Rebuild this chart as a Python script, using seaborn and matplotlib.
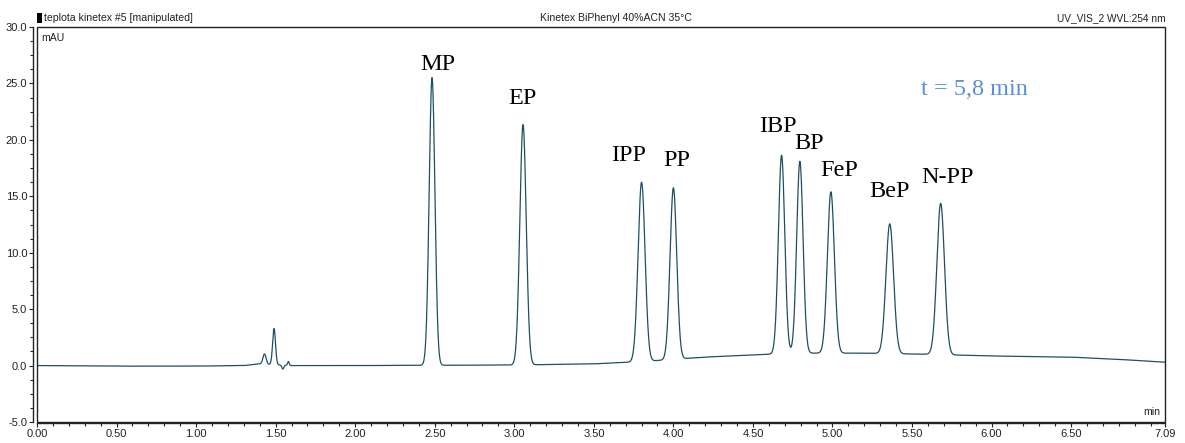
import numpy as np
import pandas as pd
import matplotlib
matplotlib.use("Agg")
import matplotlib.pyplot as plt
from matplotlib.patches import Rectangle
from matplotlib.ticker import MultipleLocator, FixedLocator, FuncFormatter
import seaborn as sns

# ---- data ----
peak_names = ["MP", "EP", "IPP", "PP", "IBP", "BP", "FeP", "BeP", "N-PP"]
peak_times = [2.483, 3.055, 3.800, 4.000, 4.680, 4.795, 4.990, 5.360, 5.680]
peak_heights = [25.5, 21.3, 15.9, 15.2, 17.6, 17.0, 14.3, 11.5, 13.4]
peak_widths = [0.018, 0.020, 0.022, 0.021, 0.020, 0.020, 0.022, 0.024, 0.024]
label_pos_x = [2.52, 3.05, 3.72, 4.02, 4.655, 4.855, 5.04, 5.36, 5.72]
label_pos_y = [26.7, 23.7, 18.6, 18.2, 21.2, 19.7, 17.3, 15.4, 16.7]

small_times = [1.43, 1.49, 1.545, 1.58]
small_heights = [0.9, 3.2, -0.35, 0.35]
small_widths = [0.010, 0.009, 0.006, 0.005]

baseline_t = [0.00, 0.50, 1.00, 1.30, 1.40, 1.60, 2.00, 3.00, 3.50, 3.80, 4.20, 4.50, 4.80, 5.20, 5.60, 6.00, 6.50, 6.80, 7.09]
baseline_v = [0.00, -0.05, -0.05, 0.00, 0.15, 0.00, 0.00, 0.05, 0.15, 0.35, 0.75, 0.95, 1.10, 1.10, 1.00, 0.85, 0.75, 0.55, 0.30]

x_max = 7.09
y_min, y_max = -5.0, 30.0

# ---- build the trace ----
t = np.linspace(0, x_max, 8000)
signal = np.interp(t, baseline_t, baseline_v)
for tr, h, w in zip(peak_times + small_times, peak_heights + small_heights, peak_widths + small_widths):
    signal = signal + h * np.exp(-0.5 * ((t - tr) / w) ** 2)
df = pd.DataFrame({"time": t, "mAU": signal})

# ---- plot ----
sns.set_theme(style="white")
plt.rcParams["font.family"] = ["Liberation Sans", "DejaVu Sans"]

fig = plt.figure(figsize=(11.85, 4.43), dpi=100)
ax = fig.add_axes([37 / 1185, 1 - 422 / 443, 1128 / 1185, 395 / 443])

sns.lineplot(data=df, x="time", y="mAU", ax=ax, color="#1d5060", linewidth=0.9,
             estimator=None, sort=False)

ax.set_xlim(0, x_max)
ax.set_ylim(y_min, y_max)
ax.set_xlabel("")
ax.set_ylabel("")

# frame
ax.add_patch(Rectangle((0, 0), 1, 1, transform=ax.transAxes, fill=False,
                       edgecolor="#222222", linewidth=1.0, clip_on=False, zorder=5))
for s in ["top", "right"]:
    ax.spines[s].set_visible(False)
ax.spines["left"].set_position(("outward", 3))
ax.spines["bottom"].set_position(("outward", 1))
for s in ["left", "bottom"]:
    ax.spines[s].set_color("#222222")
    ax.spines[s].set_linewidth(1.0)

ax.yaxis.set_major_locator(MultipleLocator(5))
ax.yaxis.set_minor_locator(MultipleLocator(1.25))
ax.yaxis.set_major_formatter(FuncFormatter(lambda v, p: f"{v:.1f}"))
xt = [0.0, 0.5, 1.0, 1.5, 2.0, 2.5, 3.0, 3.5, 4.0, 4.5, 5.0, 5.5, 6.0, 6.5, 7.09]
ax.xaxis.set_major_locator(FixedLocator(xt))
ax.xaxis.set_minor_locator(MultipleLocator(0.1))
ax.xaxis.set_major_formatter(FuncFormatter(lambda v, p: f"{v:.2f}"))
ax.tick_params(axis="both", which="both", direction="out", length=3, width=0.8,
               color="#222222", labelsize=8, labelcolor="#222222", pad=1,
               left=True, bottom=True)
ax.tick_params(axis="both", which="minor", length=2.5)

# header texts
fig.add_artist(Rectangle((37 / 1185, 1 - 23 / 443), 5 / 1185, 10 / 443,
                         transform=fig.transFigure, facecolor="black", edgecolor="none"))
fig.text(44 / 1185, 1 - 18 / 443, "teplota kinetex #5 [manipulated]", fontsize=7.6,
         va="center", ha="left", color="#222222")
fig.text(616 / 1185, 1 - 18 / 443, "Kinetex BiPhenyl 40%ACN 35°C", fontsize=7.6,
         va="center", ha="center", color="#222222")
fig.text(1166 / 1185, 1 - 18 / 443, "UV_VIS_2 WVL:254 nm", fontsize=7.3,
         va="center", ha="right", color="#222222")

ax.text(0.004, 0.985, "mAU", transform=ax.transAxes, fontsize=7.6, va="top", ha="left",
        color="#222222")
ax.text(0.996, 0.012, "min", transform=ax.transAxes, fontsize=7.6, va="bottom", ha="right",
        color="#222222")

# peak labels
for name, lx, ly in zip(peak_names, label_pos_x, label_pos_y):
    ax.text(lx, ly, name, fontsize=17.5, family="Liberation Serif", ha="center",
            va="center", color="black")
ax.text(5.89, 24.5, "t = 5,8 min", fontsize=17.5, family="Liberation Serif",
        ha="center", va="center", color="#5b8fd8")

fig.savefig("out.png", dpi=100)
